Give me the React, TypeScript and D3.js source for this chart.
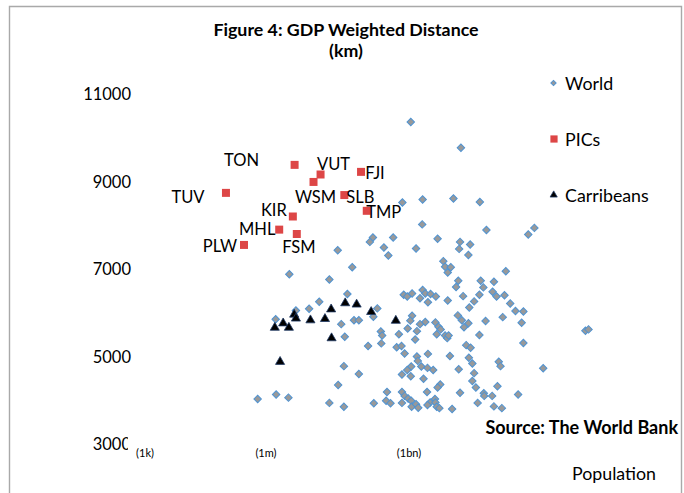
import React from "react";
import * as d3 from "d3";

// x = log10(population), y = GDP weighted distance (km)
const world: [number, number][] = [
  [6.28, 6880], [7.71, 7040], [7.19, 6760], [7.6, 6430], [6.96, 6250], [6.73, 6090], [6.43, 6050], [5.97, 5850],
  [8.28, 6100], [8.19, 5910], [7.46, 5740], [7.75, 5830], [7.86, 5830], [7.54, 5450], [8.07, 5240], [8.36, 5570],
  [8.39, 5480], [8.37, 5300], [8.77, 5510], [8.72, 5210], [8.83, 5240], [8.9, 5070], [7.52, 4780], [7.86, 4600],
  [7.39, 4350], [5.56, 4030], [5.98, 4130], [6.26, 4060], [7.19, 3940], [7.52, 3850], [8.2, 3930], [8.5, 4190],
  [8.48, 3990], [8.58, 3930], [8.84, 4190], [8.84, 3940],
  [9.88, 6920], [11.2, 6950], [10.12, 6730], [10.63, 6730], [10.93, 6710], [10.07, 6590], [10.69, 6580], [9.31, 6520],
  [8.88, 6410], [8.96, 6370], [9.07, 6440], [9.37, 6440], [9.49, 6430], [9.25, 6330], [9.61, 6370], [9.43, 6240],
  [9.88, 6280], [10.23, 6380], [10.6, 6410], [10.9, 6480], [10.99, 6370], [11.17, 6400], [10.48, 6260], [11.3, 6210],
  [10.37, 6120], [11.42, 6040], [11.6, 6030], [9.07, 5930], [9.03, 5820], [10.11, 5940], [10.2, 5830], [10.35, 5760],
  [10.25, 5670], [10.74, 5810], [11.13, 5900], [11.56, 5770], [9.37, 5790], [9.25, 5740], [9.6, 5780], [9.67, 5680],
  [8.97, 5640], [9.18, 5580], [9.63, 5510], [9.72, 5620], [9.82, 5480], [9.87, 5420], [9.9, 5480], [9.14, 5390],
  [10.6, 5490], [11.6, 5310], [13.01, 5590], [13.08, 5620], [10.3, 5260], [10.4, 5200], [9.43, 5060], [9.93, 5010],
  [9.18, 5000], [9.2, 4900], [10.36, 4970], [10.44, 4840], [11.04, 4880], [11.08, 4780], [12.05, 4730], [9.05, 4770],
  [8.96, 4690], [8.84, 4590], [9.28, 4770], [9.42, 4740], [9.55, 4690], [9.04, 4550], [10.13, 4710], [10.48, 4620],
  [9.33, 4490], [10.44, 4440], [9.71, 4360], [9.65, 4290], [10.52, 4290], [11.01, 4320], [8.9, 4100], [8.98, 4040],
  [9.05, 3990], [9.41, 4190], [9.59, 4030], [10.16, 4170], [10.7, 4160], [10.71, 4100], [10.89, 4100], [11.48, 4130],
  [9.06, 3850], [9.16, 3910], [9.21, 3830], [9.48, 3950], [9.42, 3890], [9.6, 3950], [9.63, 3850], [9.69, 3820],
  [9.98, 3800], [10.56, 3940], [10.93, 3860], [11.11, 3820],
  [9.04, 10360], [10.18, 9770], [8.85, 8520], [9.31, 8590], [10.01, 8610], [10.61, 8530], [9.3, 8020], [10.76, 7890],
  [11.85, 7940], [11.71, 7790], [8.18, 7720], [8.11, 7620], [8.64, 7720], [8.43, 7490], [8.53, 7310], [9.16, 7470],
  [9.65, 7690], [10.16, 7620], [10.39, 7560], [10.14, 7460], [10.35, 7320], [9.78, 7180], [9.82, 7050], [9.95, 7040],
  [7.38, 7430],
];

const picCodes = ["TON", "VUT", "FJI", "WSM", "TUV", "SLB", "TMP", "KIR", "MHL", "FSM", "PLW"];
const picPop = [6.4, 6.99, 7.91, 6.83, 4.84, 7.53, 8.04, 6.36, 6.05, 6.45, 5.25];
const picDist = [9380, 9160, 9220, 8990, 8740, 8690, 8330, 8200, 7900, 7800, 7550];

const caribPop = [5.95, 6.14, 6.27, 6.39, 6.43, 6.76, 7.09, 7.23, 7.55, 7.81, 8.14, 8.7, 7.24, 6.07];
const caribDist = [5660, 5760, 5660, 5960, 5870, 5830, 5860, 6080, 6220, 6190, 6020, 5820, 5420, 4880];

const yTicks = [3000, 5000, 7000, 9000, 11000];
const xTickValues = [3, 5.75, 9];
const xTickLabels = ["(1k)", "(1m)", "(1bn)"];
const legendLabels = ["World", "PICs", "Carribeans"];

// label placement (pixel offsets from the marker), layout only
const labelOffsets: Record<string, [number, number]> = {
  TON: [-53, -5], VUT: [13, -11], FJI: [14, 1], WSM: [2, 15], TUV: [-38, 4], SLB: [16, 2],
  TMP: [17, 1], KIR: [-19, -7], MHL: [-22, -1], FSM: [2, 13], PLW: [-24, 1],
};

const FONT = "Lato, 'Open Sans', sans-serif";
const W = 684, H = 493;

export default function App() {
  const x = d3.scaleLinear().domain([3, 9]).range([145, 409]);
  const y = d3.scaleLinear().domain([3000, 11000]).range([444, 94]);

  const diamond = d3.symbol(d3.symbolSquare, 28)()!;
  const square = d3.symbol(d3.symbolSquare, 64)()!;
  const tri = d3.symbol(d3.symbolTriangle, 36)()!;
  const lDiamond = d3.symbol(d3.symbolSquare, 14)()!;
  const lSquare = d3.symbol(d3.symbolSquare, 52)()!;
  const lTri = d3.symbol(d3.symbolTriangle, 22)()!;

  const worldFill = "#999999", worldStroke = "#4f93d2";
  const picFill = "#dd4646";
  const caribFill = "#000000", caribStroke = "#1f3a66";

  const legendY = [83, 139, 195];

  return (
    <svg width={W} height={H} style={{ position: "absolute", left: 0, top: 0, background: "#fff" }}>
      <rect x={0} y={0} width={W} height={H} fill="#fff" />
      {/* frame */}
      <path d={`M9.5,${H + 2} V6.5 H681.5 V${H + 2}`} fill="none" stroke="#a9a9a9" strokeWidth={1.4} />

      {/* title */}
      <text x={346} y={29} textAnchor="middle" dominantBaseline="central" fontFamily={FONT} fontWeight="bold" fontSize={17.8}>
        Figure 4: GDP Weighted Distance
      </text>
      <text x={346} y={50} textAnchor="middle" dominantBaseline="central" fontFamily={FONT} fontWeight="bold" fontSize={17.8}>
        (km)
      </text>

      {/* y tick labels */}
      {yTicks.map((t) => (
        <text key={t} x={131} y={y(t)} textAnchor="end" dominantBaseline="central" fontFamily={FONT} fontSize={16.5} fill="#000">
          {t}
        </text>
      ))}

      {/* x tick labels (text boxes with white background) */}
      {xTickValues.map((v, i) => (
        <g key={i}>
          {i === 0 && <rect x={x(v) - 17} y={y(3000) - 8} width={34} height={22} fill="#fff" />}
          <text x={x(v)} y={452} textAnchor="middle" dominantBaseline="central" fontFamily={FONT} fontSize={11} fill="#000">
            {xTickLabels[i]}
          </text>
        </g>
      ))}

      {/* world */}
      {world.map(([px, py], i) => (
        <path key={"w" + i} d={diamond} transform={`translate(${x(px)},${y(py)}) rotate(45)`} fill={worldFill} stroke={worldStroke} strokeWidth={1} />
      ))}

      {/* PICs */}
      {picCodes.map((c, i) => (
        <path key={"p" + c} d={square} transform={`translate(${x(picPop[i])},${y(picDist[i])})`} fill={picFill} />
      ))}
      {picCodes.map((c, i) => (
        <text key={"pl" + c} x={x(picPop[i]) + labelOffsets[c][0]} y={y(picDist[i]) + labelOffsets[c][1]}
          textAnchor="middle" dominantBaseline="central" fontFamily={FONT} fontSize={16.5} fill="#000">
          {c}
        </text>
      ))}

      {/* Carribeans */}
      {caribPop.map((p, i) => (
        <path key={"c" + i} d={tri} transform={`translate(${x(p)},${y(caribDist[i])})`} fill={caribFill} stroke={caribStroke} strokeWidth={0.8} />
      ))}

      {/* legend */}
      <path d={lDiamond} transform={`translate(553.5,${legendY[0]}) rotate(45)`} fill={worldFill} stroke={worldStroke} strokeWidth={1} />
      <path d={lSquare} transform={`translate(554,${legendY[1]})`} fill={picFill} />
      <path d={lTri} transform={`translate(553.7,${legendY[2]})`} fill={caribFill} stroke={caribStroke} strokeWidth={0.8} />
      {legendLabels.map((l, i) => (
        <text key={l} x={565} y={legendY[i]} dominantBaseline="central" fontFamily={FONT} fontSize={17.8} fill="#000">
          {l}
        </text>
      ))}

      {/* source + axis title */}
      <text x={678} y={427} textAnchor="end" dominantBaseline="central" fontFamily={FONT} fontWeight="bold" fontSize={18} fill="#000">
        Source: The World Bank
      </text>
      <text x={614} y={473} textAnchor="middle" dominantBaseline="central" fontFamily={FONT} fontSize={17.8} fill="#000">
        Population
      </text>
    </svg>
  );
}
